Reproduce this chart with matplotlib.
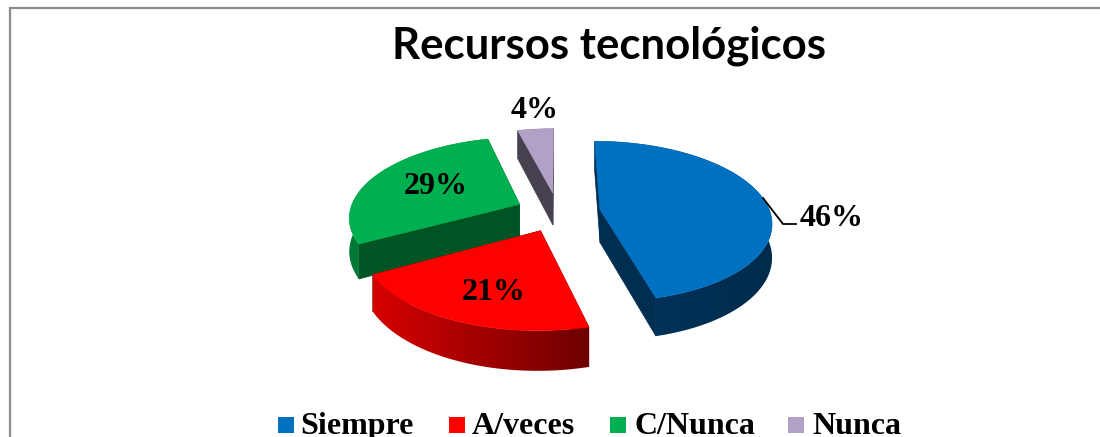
#!/usr/bin/env python3
"""
Exploded 3D pie chart of technology resources, drawn by hand
since matplotlib has no perspective pie
"""

import numpy as np
import matplotlib
matplotlib.use('Agg')
import matplotlib.pyplot as plt
from matplotlib.colors import LinearSegmentedColormap
from matplotlib.patches import Polygon, Rectangle

categories = ['Siempre', 'A/veces', 'C/Nunca', 'Nunca']
values = [46, 21, 29, 4]
value_labels = ['46%', '21%', '29%', '4%']
title = 'Recursos tecnológicos'

top_colors = ['#0070C0', '#FF0000', '#00B050', '#B2A1C7']
side_colors = ['#002E50', '#6B0000', '#005424', '#47404F']
wall_left = ['#003560', '#D60000', '#007A36', '#47404F']
wall_right = ['#002B4B', '#6E0000', '#00602B', '#47404F']

# Projection of the pie plane to pixels
CX, CY = 558, 212
RX, RY = 170, 79
PERSP = 0.147
EXPLODE = 0.25
DEPTH = 33


def project(u, v):
    """Map pie plane coordinates to pixels, v points away from the viewer"""
    w = 1 + PERSP * v
    return CX + RX * u / w, CY - RY * v / w, DEPTH / w


def draw_slice(ax, start, end, top, side, left, right):
    mid = (start + end) / 2
    ou, ov = EXPLODE * np.sin(mid), EXPLODE * np.cos(mid)
    ang = np.linspace(start, end, 120)
    x, y, d = project(ou + np.sin(ang), ov + np.cos(ang))
    ax0, ay0, ad = project(ou, ov)

    # Radial cut faces
    for i in (0, -1):
        face = [(ax0, ay0), (x[i], y[i]), (x[i], y[i] + d[i]), (ax0, ay0 + ad)]
        ax.add_patch(Polygon(face, closed=True, fc=side, ec=side, lw=0.5))

    # Outer wall, a left to right gradient clipped to the wall outline
    outline = list(zip(x, y)) + list(zip(x[::-1], (y + d)[::-1]))
    clip = Polygon(outline, closed=True, transform=ax.transData, fc='none', ec='none')
    ax.add_patch(clip)
    cmap = LinearSegmentedColormap.from_list('wall', [left, right])
    img = ax.imshow(np.linspace(0, 1, 256).reshape(1, -1), cmap=cmap, aspect='auto',
                    extent=(x.min(), x.max(), (y + d).max(), y.min()), zorder=1)
    img.set_clip_path(clip)
    clip.set_zorder(1)

    # Top face
    pts = [(ax0, ay0)] + list(zip(x, y))
    ax.add_patch(Polygon(pts, closed=True, fc=top, ec=top, lw=0.4, zorder=1))


def main():
    fig = plt.figure(figsize=(11, 4.37), dpi=100)
    ax = fig.add_axes([0, 0, 1, 1])

    # Chart frame, open on the right and at the bottom of the crop
    ax.plot([9.5, 9.5, 1100], [437, 8, 8], color='#8C8C8C', lw=1.6, solid_joinstyle='miter')

    ax.text(609, 46, title, family='Lato', weight='bold', fontsize=31.5,
            ha='center', va='center', color='black', zorder=5)

    # Angles run clockwise from the top of the pie
    edges = np.cumsum([0] + values) / sum(values) * 2 * np.pi
    for i in [3, 2, 0, 1]:
        draw_slice(ax, edges[i], edges[i + 1], top_colors[i], side_colors[i],
                   wall_left[i], wall_right[i])

    serif = dict(family='Liberation Serif', weight='bold', fontsize=23,
                 ha='center', va='center', color='black', zorder=5)
    label_pos = [(832, 218), (494, 292), (436, 186), (535, 111)]
    for text, (lx, ly) in zip(value_labels, label_pos):
        ax.text(lx, ly, text, **serif)

    # Leader line for the biggest slice
    ax.plot([763, 783, 796], [198, 224, 224], color='black', lw=1.3, zorder=5)

    # Legend
    square_x = [278, 449, 610, 788]
    text_x = [300, 472, 634, 812]
    for i, name in enumerate(categories):
        ax.add_patch(Rectangle((square_x[i], 417), 16, 16, fc=top_colors[i], ec='none'))
        ax.text(text_x[i], 434, name, family='Liberation Serif', weight='bold',
                fontsize=23, ha='left', va='baseline', color='black')

    ax.set_xlim(0, 1100)
    ax.set_ylim(437, 0)
    ax.axis('off')
    fig.savefig('out.png', dpi=100)


if __name__ == '__main__':
    main()
